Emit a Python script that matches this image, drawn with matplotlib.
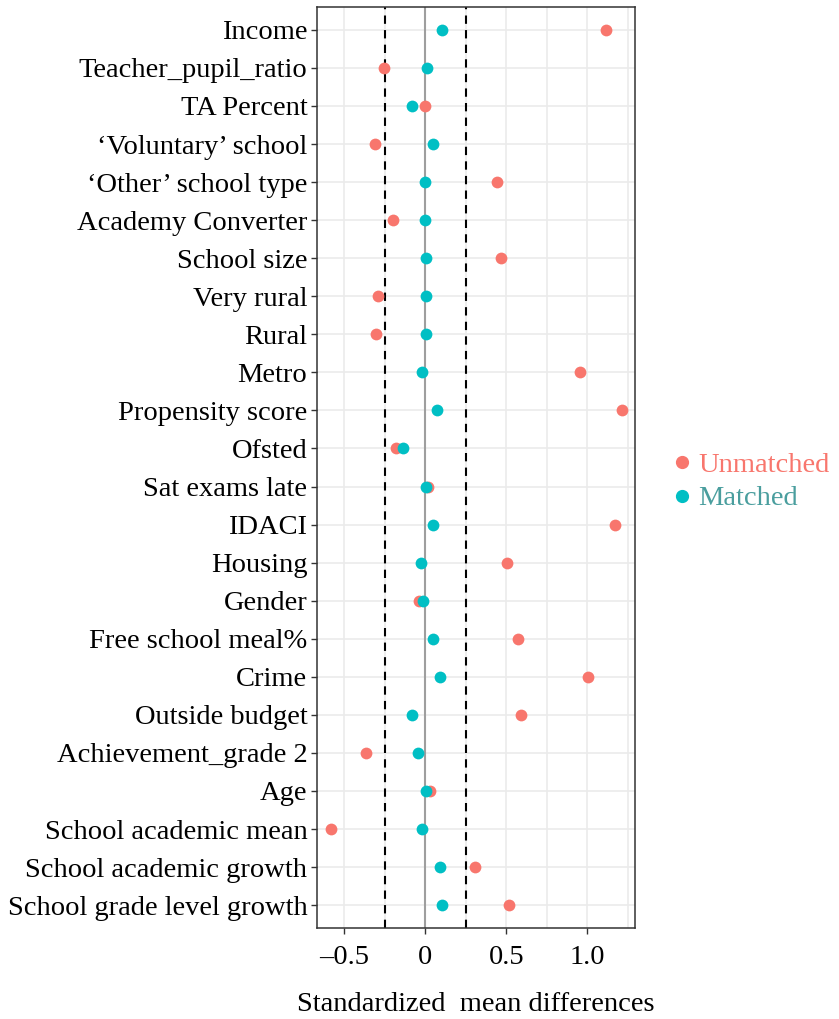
import matplotlib
matplotlib.use("Agg")
import matplotlib.pyplot as plt
from matplotlib.lines import Line2D

covariates = ["Income", "Teacher_pupil_ratio", "TA Percent", "\u2018Voluntary\u2019 school",
              "\u2018Other\u2019 school type", "Academy Converter", "School size", "Very rural",
              "Rural", "Metro", "Propensity score", "Ofsted", "Sat exams late", "IDACI",
              "Housing", "Gender", "Free school meal%", "Crime", "Outside budget",
              "Achievement_grade 2", "Age", "School academic mean", "School academic growth",
              "School grade level growth"]
unmatched = [1.115, -0.257, 0.0, -0.31, 0.44, -0.20, 0.47, -0.29, -0.305, 0.955, 1.215,
             -0.183, 0.015, 1.17, 0.505, -0.037, 0.572, 1.004, 0.59, -0.366, 0.03,
             -0.582, 0.306, 0.518]
matched = [0.105, 0.01, -0.082, 0.045, 0.0, 0.0, 0.005, 0.005, 0.005, -0.02, 0.07,
           -0.14, 0.005, 0.047, -0.027, -0.016, 0.047, 0.09, -0.082, -0.045, 0.005,
           -0.02, 0.09, 0.103]
xticks = [-0.5, 0, 0.5, 1.0]
xticklabels = ["-0.5", "0", "0.5", "1.0"]
threshold = 0.25

RED = "#F8766D"
TEAL = "#00BFC4"
FONT = ["Liberation Serif", "DejaVu Serif"]
plt.rcParams["font.family"] = FONT
FS = 20.5

fig = plt.figure(figsize=(8.39, 10.19), dpi=100)
ax = fig.add_axes([317/839, 1-928/1019, (635-317)/839, (928-7)/1019])

ypos = list(range(len(covariates)))
ax.set_xlim(-0.668, 1.294)
ax.set_ylim(len(covariates) - 0.4, -0.6)

# grid
for gx in [-0.5, -0.25, 0, 0.25, 0.5, 0.75, 1.0, 1.25]:
    ax.axvline(gx, color="#EBEBEB", lw=1.2, zorder=0)
for gy in ypos:
    ax.axhline(gy, color="#EBEBEB", lw=1.2, zorder=0)

ax.axvline(0, color="#9E9E9E", lw=1.5, zorder=1)
ax.axvline(-threshold, color="black", lw=1.5, ls=(0, (4, 3)), zorder=1)
ax.axvline(threshold, color="black", lw=1.5, ls=(0, (4, 3)), zorder=1)

ax.scatter(unmatched, ypos, s=72, color=RED, zorder=3, linewidths=0)
ax.scatter(matched, ypos, s=72, color=TEAL, zorder=4, linewidths=0)

ax.set_yticks(ypos)
ax.set_yticklabels(covariates)
ax.set_xticks(xticks)
ax.set_xticklabels([t.replace("-", "\u2013") for t in xticklabels])
ax.tick_params(axis="both", labelsize=FS, colors="black", length=4, width=1,
               color="#333333")
ax.tick_params(axis="x", pad=8)
ax.tick_params(axis="y", pad=3)
for sp in ax.spines.values():
    sp.set_color("#333333")
    sp.set_linewidth(1.1)

ax.set_xlabel("Standardized  mean differences", fontsize=FS, labelpad=16)

handles = [Line2D([], [], marker="o", ls="", color=RED, markersize=8.5),
           Line2D([], [], marker="o", ls="", color=TEAL, markersize=8.5)]
leg = fig.legend(handles, ["Unmatched", "Matched"], loc="center left",
                 bbox_to_anchor=(668/839, 1-482/1019), frameon=False,
                 fontsize=FS, handletextpad=0.05, handlelength=1.0,
                 labelspacing=0.25, borderpad=0, borderaxespad=0)
leg.get_texts()[0].set_color(RED)
leg.get_texts()[1].set_color("#4A9E9E")

fig.savefig("out.png", dpi=100)
